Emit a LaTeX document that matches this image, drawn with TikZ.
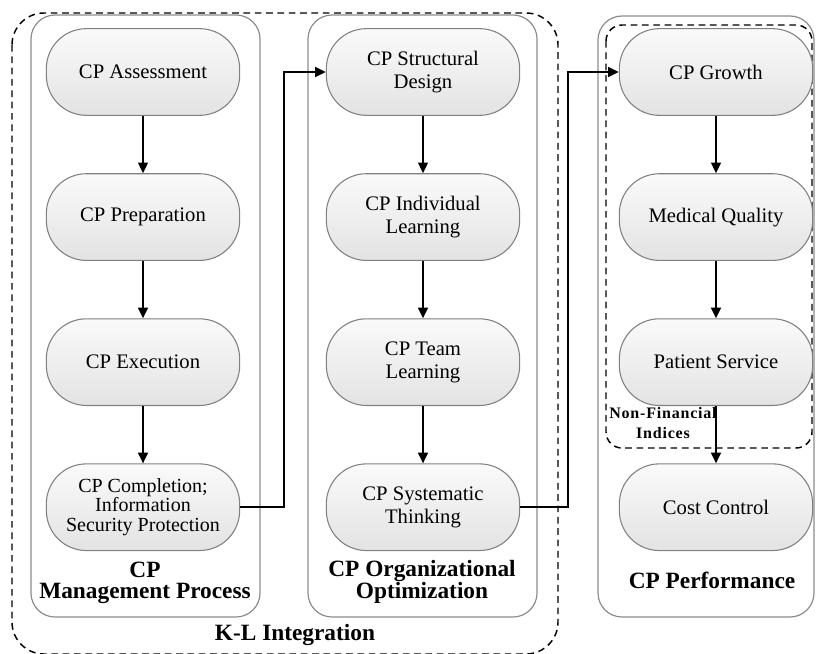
\documentclass[tikz,border=0pt]{standalone}
\usepackage{fontspec}
\setmainfont{Liberation Serif}
\usetikzlibrary{positioning,arrows.meta}
\tikzset{>={Triangle[width=7.5pt,length=8pt]}, % filled arrow heads
node distance=43pt, % gap between two boxes of one column
phase/.style={draw=gray, line width=0.8pt, rounded corners=30pt, top color=gray!4, bottom color=gray!22, minimum width=145pt, minimum height=65pt, align=center, font=\fontsize{15.5}{17.5}\selectfont}, % the rounded steps
column/.style={draw=gray!90, line width=0.9pt, rounded corners=18pt}, % the three grey frames
group/.style={draw, line width=1.1pt, dash pattern=on 5pt off 3.5pt}, % dashed groups
title/.style={align=center, font=\fontsize{17.5}{15.5}\selectfont\bfseries}, % bold captions
flow/.style={->, line width=1.1pt}, % connectors
}
\begin{document}
\begin{tikzpicture}[x=0.75pt,y=-0.75pt]
\useasboundingbox (0,0) rectangle (816,653);
% frames
\draw[column] (31,15) rectangle (260,617);
\draw[column] (308,15) rectangle (537,617);
\draw[column] (598,16) rectangle (814,617);
\draw[group, rounded corners=24pt] (12,13) rectangle (558,654);
\draw[group, rounded corners=12pt] (606,25) rectangle (812,448);
% management process
\node[phase] (a1) at (143,72) {CP Assessment};
\node[phase, below=of a1] (a2) {CP Preparation};
\node[phase, below=of a2] (a3) {CP Execution};
\node[phase, below=of a3, font=\fontsize{15}{14.5}\selectfont] (a4) {CP Completion;\\Information\\Security Protection};
% organizational optimization
\node[phase] (b1) at (423,72) {CP Structural\\Design};
\node[phase, below=of b1] (b2) {CP Individual\\Learning};
\node[phase, below=of b2] (b3) {CP Team\\Learning};
\node[phase, below=of b3] (b4) {CP Systematic\\Thinking};
% performance
\node[phase] (c1) at (716,72) {CP Growth};
\node[phase, below=of c1] (c2) {Medical Quality};
\node[phase, below=of c2] (c3) {Patient Service};
\node[phase, below=of c3] (c4) {Cost Control};
% captions
\node[title] (ta) at (145,583) {CP\\Management Process};
\node[title] (tb) at (422,582) {CP Organizational\\Optimization};
\node[title] (tc) at (712,580) {CP Performance};
\node[title] (tk) at (295,635) {K-L Integration};
\node[align=center, font=\fontsize{12}{14.5}\selectfont\bfseries\addfontfeatures{LetterSpace=5}] (tn) at (663,423) {Non-Financial\\Indices};
% connectors
\draw[flow] (a1) -- (a2);
\draw[flow] (a2) -- (a3);
\draw[flow] (a3) -- (a4);
\draw[flow] (b1) -- (b2);
\draw[flow] (b2) -- (b3);
\draw[flow] (b3) -- (b4);
\draw[flow] (c1) -- (c2);
\draw[flow] (c2) -- (c3);
\draw[flow] (c3) -- (c4);
\draw[flow] (a4.east) -- ++(44,0) |- (b1.west);
\draw[flow] (b4.east) -- ++(48,0) |- (c1.west);
\end{tikzpicture}
\end{document}
